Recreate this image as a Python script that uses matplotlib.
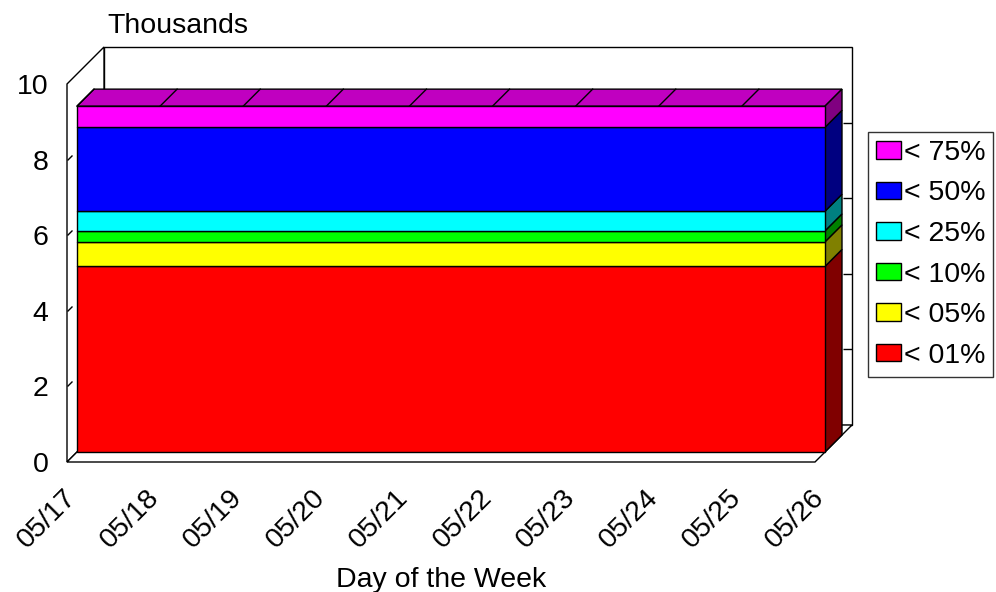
import numpy as np
import matplotlib
matplotlib.use("Agg")
import matplotlib.pyplot as plt
from matplotlib.patches import Polygon, Patch
from matplotlib.lines import Line2D
from matplotlib.path import Path
import matplotlib.transforms as mtransforms

plt.rcParams['font.family'] = ['Liberation Sans', 'DejaVu Sans']

# ---------------- data ----------------
days = ["05/17", "05/18", "05/19", "05/20", "05/21",
        "05/22", "05/23", "05/24", "05/25", "05/26"]
series_names = ["< 01%", "< 05%", "< 10%", "< 25%", "< 50%", "< 75%"]
s01 = [4.91, 4.91, 4.91, 4.91, 4.91, 4.91, 4.91, 4.91, 4.91, 4.91]
s05 = [0.65, 0.65, 0.65, 0.65, 0.65, 0.65, 0.65, 0.65, 0.65, 0.65]
s10 = [0.29, 0.29, 0.29, 0.29, 0.29, 0.29, 0.29, 0.29, 0.29, 0.29]
s25 = [0.52, 0.52, 0.52, 0.52, 0.52, 0.52, 0.52, 0.52, 0.52, 0.52]
s50 = [2.22, 2.22, 2.22, 2.22, 2.22, 2.22, 2.22, 2.22, 2.22, 2.22]
s75 = [0.56, 0.56, 0.56, 0.56, 0.56, 0.56, 0.56, 0.56, 0.56, 0.56]
yticks = [0, 2, 4, 6, 8, 10]

face_colors = ["#FF0000", "#FFFF00", "#00FF00", "#00FFFF", "#0000FF", "#FF00FF"]
side_colors = ["#800000", "#808000", "#008000", "#008080", "#000080", "#800080"]
top_color = "#C000C0"

FS = 20.5
LW = 1.0
W, H = 996, 592
fig = plt.figure(figsize=(W / 100, H / 100), dpi=100)
ax = fig.add_axes([67 / W, (H - 462) / H, (815 - 67) / W, (462 - 84) / H])
x = np.arange(len(days))
ax.set_xlim(x[0], x[-1])
ax.set_ylim(0, 10)
ax.set_autoscale_on(False)
for sp in ax.spines.values():
    sp.set_visible(False)
ax.patch.set_visible(False)

WALL = 37     # depth of the chart box (pixels)
D0, D1 = 10, 27  # depth span of the area slab

def P(xv, yv, d):
    return ax.transData.transform((xv, yv)) + np.array([d, d])

def poly(verts, fc, z, lw=LW):
    p = Polygon(np.array(verts), closed=True, facecolor=fc, edgecolor="black",
                linewidth=lw, transform=mtransforms.IdentityTransform(),
                clip_on=False, zorder=z)
    ax.add_artist(p)

x0, x1 = x[0], x[-1]
# back wall, left wall, floor
poly([P(x0, 0, WALL), P(x1, 0, WALL), P(x1, 10, WALL), P(x0, 10, WALL)], "white", 1)
poly([P(x0, 0, 0), P(x0, 0, WALL), P(x0, 10, WALL), P(x0, 10, 0)], "white", 1.1)
poly([P(x0, 0, 0), P(x1, 0, 0), P(x1, 0, WALL), P(x0, 0, WALL)], "white", 1.2)

# wall ticks
diag = Path([(0, 0), (1, 1)], [Path.MOVETO, Path.LINETO])
left = Path([(-1, 0), (0, 0)], [Path.MOVETO, Path.LINETO])
inner = [v for v in yticks if 0 < v < 10]
ax.plot([x0] * len(inner), inner, ls="none", marker=diag, ms=7.2, mew=LW,
        color="black", clip_on=False, zorder=1.3)
off_back = mtransforms.offset_copy(ax.transData, fig=fig, x=WALL, y=WALL, units="dots")
ax.plot([x1] * len(inner), inner, ls="none", marker=left, ms=13, mew=LW,
        color="black", clip_on=False, zorder=1.3, transform=off_back)

# stacked area slab
vals = [np.array(s) for s in (s01, s05, s10, s25, s50, s75)]
off_front = mtransforms.offset_copy(ax.transData, fig=fig, x=D0, y=D0, units="dots")
lower = np.zeros(len(x))
for i, v in enumerate(vals):
    upper = lower + v
    ax.fill_between(x, lower, upper, facecolor=face_colors[i], edgecolor="black",
                    linewidth=LW, transform=off_front, clip_on=False, zorder=3)
    poly([P(x1, lower[-1], D0), P(x1, lower[-1], D1), P(x1, upper[-1], D1),
          P(x1, upper[-1], D0)], side_colors[i], 2.5)
    lower = upper

# top face
top = lower
verts = [P(xi, yi, D0) for xi, yi in zip(x, top)] + \
        [P(xi, yi, D1) for xi, yi in zip(x[::-1], top[::-1])]
poly(verts, top_color, 2.4)
for xi, yi in zip(x, top):
    a, b = P(xi, yi, D0), P(xi, yi, D1)
    ax.add_artist(Line2D([a[0], b[0]], [a[1], b[1]], color="black", lw=LW,
                         transform=mtransforms.IdentityTransform(), zorder=2.45))

# ticks & labels
ax.set_yticks(yticks)
ax.set_yticklabels([str(v) for v in yticks], fontsize=FS)
ax.tick_params(axis="y", length=0, pad=13.5)
ax.set_xticks(x)
ax.set_xticklabels(days, fontsize=FS, rotation=45, ha="right", va="top",
                   rotation_mode="anchor")
ax.tick_params(axis="x", length=0, pad=16)
shift = mtransforms.ScaledTranslation(-4 / 100, 0, fig.dpi_scale_trans)
for lab in ax.get_xticklabels():
    lab.set_transform(lab.get_transform() + shift)

fig.text(107 / W, 1 - 33 / H, "Thousands", fontsize=FS, ha="left", va="baseline")
fig.text(441 / W, 1 - 587 / H, "Day of the Week", fontsize=FS, ha="center", va="baseline")

# legend
handles = [Patch(facecolor=face_colors[i], edgecolor="black", linewidth=LW)
           for i in range(len(series_names))][::-1]
leg = fig.legend(handles, series_names[::-1], loc="upper left",
                 bbox_to_anchor=(868 / W, 1 - 132 / H), borderaxespad=0,
                 fontsize=FS, frameon=True, fancybox=False, edgecolor="black",
                 handlelength=0.88, handleheight=0.56, handletextpad=0.1,
                 labelspacing=0.51, borderpad=0.28)
leg.get_frame().set_linewidth(LW)

fig.savefig("out.png", dpi=100)
